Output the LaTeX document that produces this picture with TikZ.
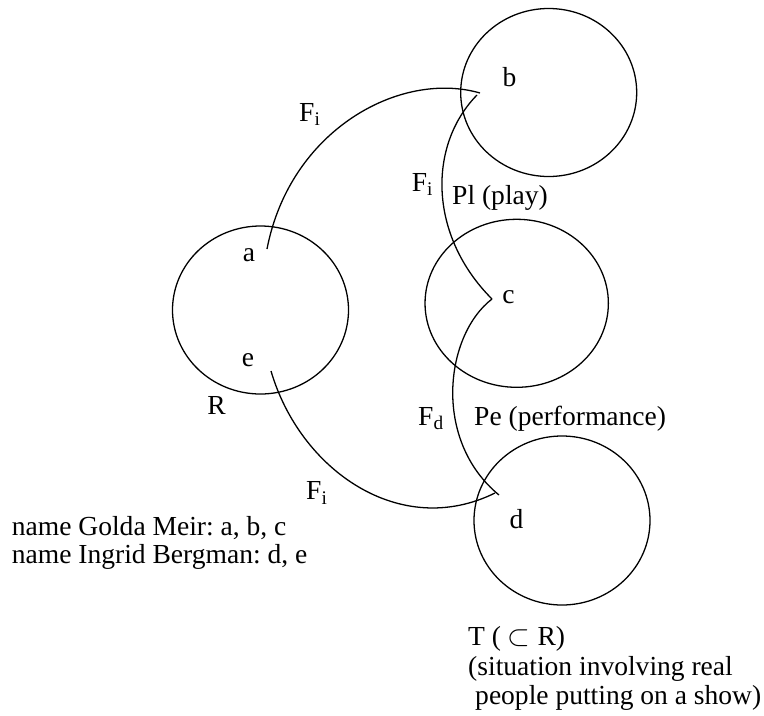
\documentclass[tikz,border=0pt]{standalone}
\usepackage{amsmath}
\usepackage{fontspec}
\setmainfont{Liberation Serif}
\usetikzlibrary{positioning}
\usetikzlibrary{shapes.geometric}

\tikzset{
sit/.style={draw, ellipse, inner sep=0pt, line width=1.1pt},
lbl/.style={anchor=base, inner sep=0pt, font=\fontsize{23.5pt}{24pt}\selectfont},
txt/.style={anchor=base west, inner sep=0pt, font=\fontsize{23.5pt}{24pt}\selectfont\frenchspacing},
fn/.style={line width=1.1pt}
}

\begin{document}
\begin{tikzpicture}[x=0.3mm, y=-0.3mm]
\useasboundingbox (0,0) rectangle (764,716);

% situations
{
\node[sit, minimum width=52.8mm, minimum height=50.4mm] (sitR) at (260.5,310) {};
\node[sit, minimum width=52.8mm, minimum height=50.4mm] (sitb) at (548.7,92.5) {};
\node[sit, minimum width=55mm, minimum height=50.4mm] (sitc) at (516.7,303.3) {};
\node[sit, minimum width=52.8mm, minimum height=50.7mm] (sitd) at (562,520.5) {};
}

% nodes
{
\node[lbl] (a) at (249,261) {a};
\node[lbl] (b) at (509.5,86) {b};
\node[lbl] (c) at (508.5,303) {c};
\node[lbl] (d) at (516.5,528) {d};
\node[lbl] (e) at (248,366) {e};
\node[lbl] (R) at (216.5,414) {R};
}

% ends of the lines
\coordinate (a-out) at (267,249);
\coordinate (b-in) at (480,93);
\coordinate (b-out) at (477,95);
\coordinate (c-tip) at (492,299);
\coordinate (d-in) at (499,495);
\coordinate (e-out) at (271,371);
\coordinate (d-end) at (495,493);

%lines
{
\draw[fn] (a-out) .. controls (290,130) and (400,70) .. (b-in);
\draw[fn] (b-out) .. controls (428,145) and (428,235) .. (c-tip);
\draw[fn] (c-tip) .. controls (445,335) and (432,440) .. (d-in);
\draw[fn] (e-out) .. controls (300,470) and (400,540) .. (d-end);
}

% labels of the lines
{
\node[txt] (Fab) at (299,121) {F\textsubscript{i}};
\node[txt] (Fbc) at (411.7,191) {F\textsubscript{i}};
\node[txt] (play) at (452,204) {Pl (play)};
\node[txt] (Fcd) at (418,425.6) {F\textsubscript{d}};
\node[txt] (perf) at (474,425.6) {Pe (performance)};
\node[txt] (Fed) at (306,499.7) {F\textsubscript{i}};
}

% names
\node[txt] (golda) at (11.7,535) {name Golda Meir: a, b, c};
\node[txt] (ingrid) at (11.7,563) {name Ingrid Bergman: d, e};

\node[txt] (T) at (468,645) {T ( $\subset$ R)};
\node[txt] (Tline2) at (468,675) {(situation involving real};
\node[txt] (Tline3) at (475,704) {people putting on a show)};

\end{tikzpicture}
\end{document}
